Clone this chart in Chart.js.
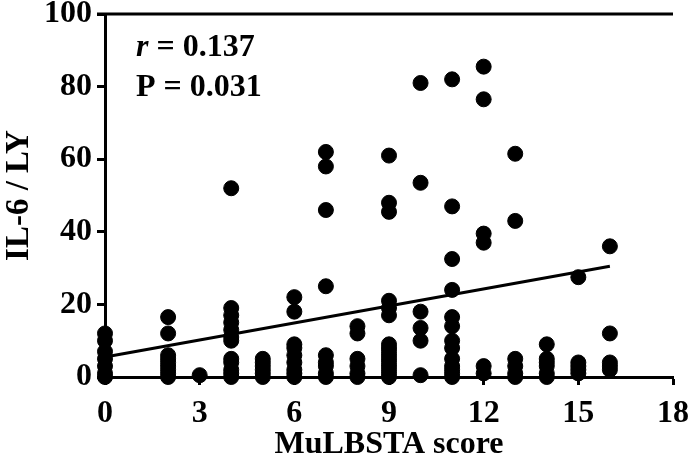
<!DOCTYPE html>
<html><head><meta charset="utf-8">
<script src="https://cdn.jsdelivr.net/npm/chart.js@4/dist/chart.umd.min.js"></script>
<style>html,body{margin:0;padding:0;background:#fff}#wrap{width:689px;height:461px}</style>
</head><body><div id="wrap"><canvas id="c" width="689" height="461"></canvas></div>
<script>
// MuLBSTA score categories and IL-6/LY values
const scores = [0,2,3,4,5,6,7,8,9,10,11,12,13,14,15,16];
const values = [
  [12,10,7,5,3,1,0],
  [16.5,12,6,5,4,3,2,1,0],
  [0.5],
  [52,19,17,15,13,11,10,5,4,2,1,0],
  [5,4,3,2,1,0],
  [22,18,9,8,6,4,2,1,0],
  [62,58,46,25,6,4,3,1,0],
  [14,12,5,3,1,0],
  [61,48,45.5,21,19,17,9,8,7,6,5,4,3,2,1,0],
  [81,53.5,18,13.5,10,0.5],
  [82,47,32.5,24,16.5,14,10,8,5,3,2,1,0],
  [85.5,76.5,39.5,37,3,1],
  [61.5,43,5,3,1,0],
  [9,5,4,3,1,0],
  [27.5,4,3,2,1],
  [36,12,4,3,2]
];
const fitX = [0,16];
const fitY = [5.5,30.5];
const xTicks = [0,3,6,9,12,15,18];
const yTicks = [0,20,40,60,80,100];
const statR = '0.137';
const statP = '0.031';

const pts = [];
scores.forEach((s,i)=>values[i].forEach(v=>pts.push({x:s,y:v})));
const linePts = fitX.map((x,i)=>({x:x,y:fitY[i]}));

const FONT = '"Liberation Serif","Times New Roman",serif';

const deco = {
  id:'deco',
  afterDraw(chart){
    const ctx = chart.ctx, a = chart.chartArea;
    ctx.save();
    ctx.strokeStyle='#000'; ctx.lineWidth=3;
    ctx.beginPath(); ctx.moveTo(a.left-8,a.top); ctx.lineTo(a.right,a.top); ctx.stroke();
    ctx.fillStyle='#000';
    ctx.textBaseline='alphabetic'; ctx.textAlign='left';
    const x0=136, y1=56, y2=96;
    ctx.font='italic bold 32px '+FONT;
    ctx.fillText('r',x0,y1);
    const rw=ctx.measureText('r').width;
    ctx.font='bold 32px '+FONT;
    ctx.fillText(' = '+statR,x0+rw,y1);
    ctx.fillText('P = '+statP,x0,y2);
    ctx.restore();
  }
};

new Chart(document.getElementById('c'),{
  type:'scatter',
  data:{datasets:[
    {type:'line',data:linePts,borderColor:'#000',borderWidth:3,pointRadius:0,fill:false,clip:false},
    {data:pts,backgroundColor:'#000',borderColor:'#000',pointRadius:7.5,pointHoverRadius:7.5,clip:false}
  ]},
  options:{
    responsive:false,animation:false,
    layout:{padding:{top:14,right:16,left:0,bottom:0}},
    plugins:{legend:{display:false},tooltip:{enabled:false}},
    scales:{
      x:{type:'linear',min:0,max:18,
        afterBuildTicks(s){s.ticks=xTicks.map(v=>({value:v}));},
        afterFit(s){s.height=84;s.paddingLeft=0;s.paddingRight=0;},
        grid:{drawOnChartArea:false,tickLength:8,tickWidth:3,tickColor:'#000'},
        border:{color:'#000',width:3},
        ticks:{color:'#000',padding:10,font:{family:FONT,size:32,weight:'bold'},maxRotation:0},
        title:{display:true,text:'MuLBSTA score',color:'#000',font:{family:FONT,size:32,weight:'bold'},padding:{top:0,bottom:-3}}
      },
      y:{type:'linear',min:0,max:100,
        afterBuildTicks(s){s.ticks=yTicks.map(v=>({value:v}));},
        afterFit(s){s.width=105;s.paddingTop=0;s.paddingBottom=0;},
        grid:{drawOnChartArea:false,tickLength:8,tickWidth:3,tickColor:'#000'},
        border:{color:'#000',width:3},
        ticks:{color:'#000',padding:5,font:{family:FONT,size:32,weight:'bold'}},
        title:{display:true,text:'IL-6 / LY',color:'#000',font:{family:FONT,size:33,weight:'bold'},padding:{top:0,bottom:0}}
      }
    }
  },
  plugins:[deco]
});
</script></body></html>
